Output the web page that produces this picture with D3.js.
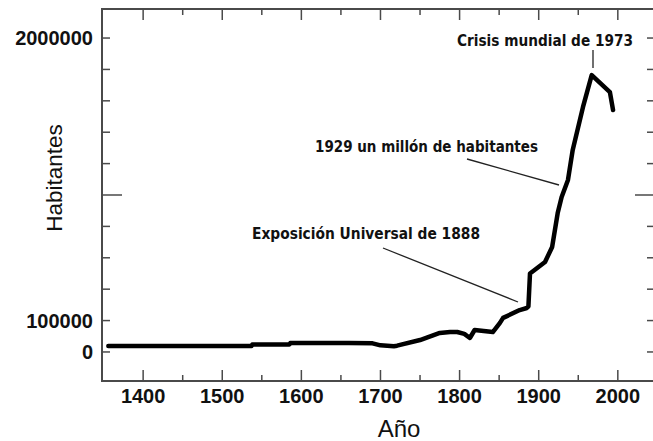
<!DOCTYPE html>
<html>
<head>
<meta charset="utf-8">
<script src="https://cdn.jsdelivr.net/npm/d3@7"></script>
<style>
  body { margin: 0; background: #fff; }
  svg text { font-family: "Liberation Sans", Arial, sans-serif; fill: #111; }
</style>
</head>
<body>
<div id="root"></div>
<script>
// population curve
const years = [1356, 1537, 1538, 1585, 1586, 1660, 1690, 1700, 1717, 1721, 1750, 1775, 1788, 1797, 1806, 1813, 1819, 1842, 1851, 1855, 1876, 1885, 1887, 1889, 1908, 1917, 1924, 1929, 1937, 1943, 1956, 1967, 1990, 1994];
const population = [38000, 38000, 48000, 48000, 57000, 57000, 55000, 42000, 37000, 40000, 76000, 121000, 127000, 127000, 115000, 89000, 140000, 127000, 185000, 217000, 267000, 280000, 290000, 500000, 573000, 669000, 885000, 987000, 1096000, 1287000, 1561000, 1764000, 1656000, 1541000];

const xTickYears = [1400, 1500, 1600, 1700, 1800, 1900, 2000];
const yTickValues = [0, 200000, 2000000];
const yTickLabels = ["0", "100000", "2000000"];

const annotations = [
    { text: "Crisis mundial de 1973", year: 1967, value: 1764000 },
    { text: "1929 un millón de habitantes", year: 1929, value: 987000 },
    { text: "Exposición Universal de 1888", year: 1885, value: 280000 }
];

let width = 653, height = 441;
let svg = d3.select('#root').append('svg')
    .attr('width', width)
    .attr('height', height);

let x = d3.scaleLinear().domain([1348, 2047]).range([102, 655]),
    y = d3.scaleLinear().domain([-185000, 2185000]).range([381, 9]);

let frameColor = '#4a4a4a';

// frame
svg.append('rect')
    .attr('x', x(1348)).attr('y', y(2185000))
    .attr('width', x(2047) - x(1348)).attr('height', y(-185000) - y(2185000))
    .attr('fill', 'none').attr('stroke', frameColor).attr('stroke-width', 2);

// x ticks every 50 years, inward on bottom and top
let xTicks = d3.range(1400, 2001, 50);
['bottom', 'top'].forEach(side => {
    let base = side == 'bottom' ? y(-185000) : y(2185000),
        dir = side == 'bottom' ? -1 : 1;
    svg.append('g').selectAll('line')
        .data(xTicks).enter().append('line')
        .attr('x1', d => x(d)).attr('x2', d => x(d))
        .attr('y1', base)
        .attr('y2', d => base + dir * (d % 100 == 0 ? 11 : 6))
        .attr('stroke', frameColor).attr('stroke-width', 1.5);
});

// y ticks every 200000, inward on left and right
let yTicks = d3.range(0, 2000001, 200000);
['left', 'right'].forEach(side => {
    let base = side == 'left' ? x(1348) : x(2047),
        dir = side == 'left' ? 1 : -1;
    svg.append('g').selectAll('line')
        .data(yTicks).enter().append('line')
        .attr('y1', d => y(d)).attr('y2', d => y(d))
        .attr('x1', base)
        .attr('x2', d => base + dir * (d == 1000000 ? 20 : 8))
        .attr('stroke', frameColor).attr('stroke-width', 1.5);
});

// tick labels
svg.append('g').selectAll('text')
    .data(xTickYears).enter().append('text')
    .attr('x', d => x(d)).attr('y', 403)
    .attr('text-anchor', 'middle')
    .style('font-size', '20px').style('font-weight', 'bold')
    .text(d => d);

svg.append('g').selectAll('text')
    .data(yTickValues).enter().append('text')
    .attr('x', 93).attr('y', d => y(d) + 7)
    .attr('text-anchor', 'end')
    .style('font-size', '20px').style('font-weight', 'bold')
    .text((d, i) => yTickLabels[i]);

// axis titles
svg.append('text')
    .attr('x', 399).attr('y', 437)
    .attr('text-anchor', 'middle')
    .style('font-size', '24px')
    .text('Año');

svg.append('text')
    .attr('transform', 'translate(62,178) rotate(-90)')
    .attr('text-anchor', 'middle')
    .style('font-size', '22.5px')
    .text('Habitantes');

// population line
let line = d3.line()
    .x((d, i) => x(years[i]))
    .y(d => y(d));

svg.append('path')
    .datum(population)
    .attr('d', line)
    .attr('fill', 'none')
    .attr('stroke', '#000')
    .attr('stroke-width', 4.5)
    .attr('stroke-linejoin', 'round')
    .attr('stroke-linecap', 'round');

// annotations: label box and leader ends
let notePos = [
    { x1: 457, x2: 633, base: 46, lx1: 593, ly1: 50, lx2: 593, ly2: 68 },
    { x1: 315, x2: 538, base: 152, lx1: 467, ly1: 159, lx2: 559, ly2: 185 },
    { x1: 252, x2: 480, base: 239, lx1: 383, ly1: 248, lx2: 518, ly2: 302 }
];

annotations.forEach((a, i) => {
    let p = notePos[i];
    svg.append('text')
        .attr('x', p.x1).attr('y', p.base)
        .attr('textLength', p.x2 - p.x1)
        .attr('lengthAdjust', 'spacingAndGlyphs')
        .style('font-family', '"Liberation Sans Narrow", "DejaVu Sans Condensed", sans-serif')
        .style('font-size', '15.5px').style('font-weight', 'bold')
        .text(a.text);
    svg.append('line')
        .attr('x1', p.lx1).attr('y1', p.ly1)
        .attr('x2', p.lx2).attr('y2', p.ly2)
        .attr('stroke', '#222').attr('stroke-width', 1.3);
});
</script>
</body>
</html>
